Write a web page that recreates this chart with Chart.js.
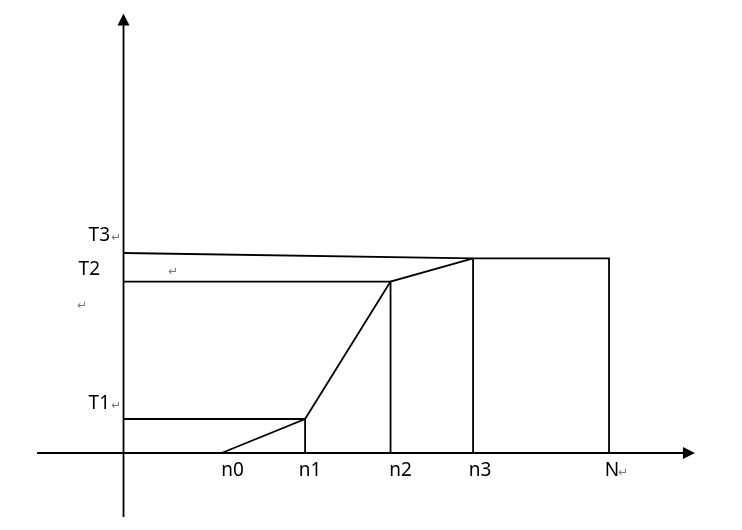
<!DOCTYPE html>
<html>
<head>
<meta charset="utf-8">
<script src="https://cdn.jsdelivr.net/npm/chart.js@4"></script>
<style>
  html, body { margin: 0; padding: 0; background: #fff; }
  #wrap { width: 742px; height: 530px; }
</style>
</head>
<body>
<div id="wrap"><canvas id="myChart" width="742" height="530"></canvas></div>
<script>
// points on the n axis
const nLabels = ['n0', 'n1', 'n2', 'n3', 'N'];
const nValues = [2.02, 3.74, 5.5, 7.2, 10];

// levels on the T axis
const tLabels = ['T1', 'T2', 'T3'];
const tValues = [1.7, 8.57, 10];
const t3AtN3 = 9.73;   // T3 line ends a little lower at n3

// axis extents (arrow tips)
const xAxisRange = [-1.78, 11.77];
const yAxisRange = [-3.2, 21.98];

const [n0, n1, n2, n3, nN] = nValues;
const [t1, t2, t3] = tValues;

const black = '#000';
const lw = 1.8;

function seg(points) {
    return {
        data: points.map(p => ({ x: p[0], y: p[1] })),
        showLine: true,
        borderColor: black,
        borderWidth: lw,
        pointRadius: 0,
        fill: false,
        tension: 0
    };
}

const datasets = [
    seg([[n0, 0], [n1, t1], [n2, t2], [n3, t3AtN3]]),
    seg([[0, t3], [n3, t3AtN3], [nN, t3AtN3], [nN, 0]]),
    seg([[0, t2], [n2, t2], [n2, 0]]),
    seg([[0, t1], [n1, t1], [n1, 0]]),
    seg([[n3, t3AtN3], [n3, 0]])
];

const font = '19px "Noto Sans", "DejaVu Sans", sans-serif';
const markFont = '12px "DejaVu Sans", sans-serif';
const markColor = '#7a7a7a';

// axes with arrows and the labels
const diagram = {
    id: 'diagram',
    afterDatasetsDraw(chart) {
        const c = chart.ctx;
        const xs = chart.scales.x, ys = chart.scales.y;
        const px = v => xs.getPixelForValue(v);
        const py = v => ys.getPixelForValue(v);
        c.save();
        c.strokeStyle = black;
        c.fillStyle = black;
        c.lineWidth = lw;

        // x axis
        const xEnd = px(xAxisRange[1]);
        c.beginPath();
        c.moveTo(px(xAxisRange[0]), py(0));
        c.lineTo(xEnd - 10, py(0));
        c.stroke();
        c.beginPath();
        c.moveTo(xEnd, py(0));
        c.lineTo(xEnd - 12, py(0) - 6);
        c.lineTo(xEnd - 12, py(0) + 6);
        c.closePath();
        c.fill();

        // y axis
        const yEnd = py(yAxisRange[1]);
        c.beginPath();
        c.moveTo(px(0), py(yAxisRange[0]));
        c.lineTo(px(0), yEnd + 10);
        c.stroke();
        c.beginPath();
        c.moveTo(px(0), yEnd);
        c.lineTo(px(0) - 6, yEnd + 12);
        c.lineTo(px(0) + 6, yEnd + 12);
        c.closePath();
        c.fill();

        // n labels
        const nDx = [11, 5, 10, 7, 3];
        c.font = font;
        c.textAlign = 'center';
        c.textBaseline = 'middle';
        nLabels.forEach((t, i) => {
            const x = px(nValues[i]) + nDx[i];
            c.fillStyle = black;
            c.fillText(t, x, py(0) + 18);
        });
        // return mark after N
        c.font = markFont;
        c.fillStyle = markColor;
        c.textAlign = 'left';
        c.fillText('\u21B5', px(nN) + 9, py(0) + 20);

        // T labels
        const tRight = [110, 100, 110];
        const tDy = [-15, -12, -17];
        const tMark = [true, false, true];
        tLabels.forEach((t, i) => {
            const y = py(tValues[i]) + tDy[i];
            c.font = font;
            c.fillStyle = black;
            c.textAlign = 'right';
            c.fillText(t, tRight[i], y);
            if (tMark[i]) {
                c.font = markFont;
                c.fillStyle = markColor;
                c.textAlign = 'left';
                c.fillText('\u21B5', tRight[i] + 1, y + 2);
            }
        });

        // stray paragraph marks
        c.font = markFont;
        c.fillStyle = markColor;
        c.textAlign = 'center';
        c.fillText('\u21B5', 173, 272);
        c.fillText('\u21B5', 82, 306);
        c.restore();
    }
};

const ctx = document.getElementById('myChart').getContext('2d');
const myChart = new Chart(ctx, {
    type: 'scatter',
    data: { datasets: datasets },
    options: {
        responsive: false,
        animation: false,
        devicePixelRatio: 1,
        layout: { padding: 0 },
        scales: {
            x: { type: 'linear', display: false, min: -2.544, max: 12.739 },
            y: { type: 'linear', display: false, min: -3.85, max: 22.65 }
        },
        plugins: {
            legend: { display: false },
            tooltip: { enabled: false }
        }
    },
    plugins: [diagram]
});
</script>
</body>
</html>
